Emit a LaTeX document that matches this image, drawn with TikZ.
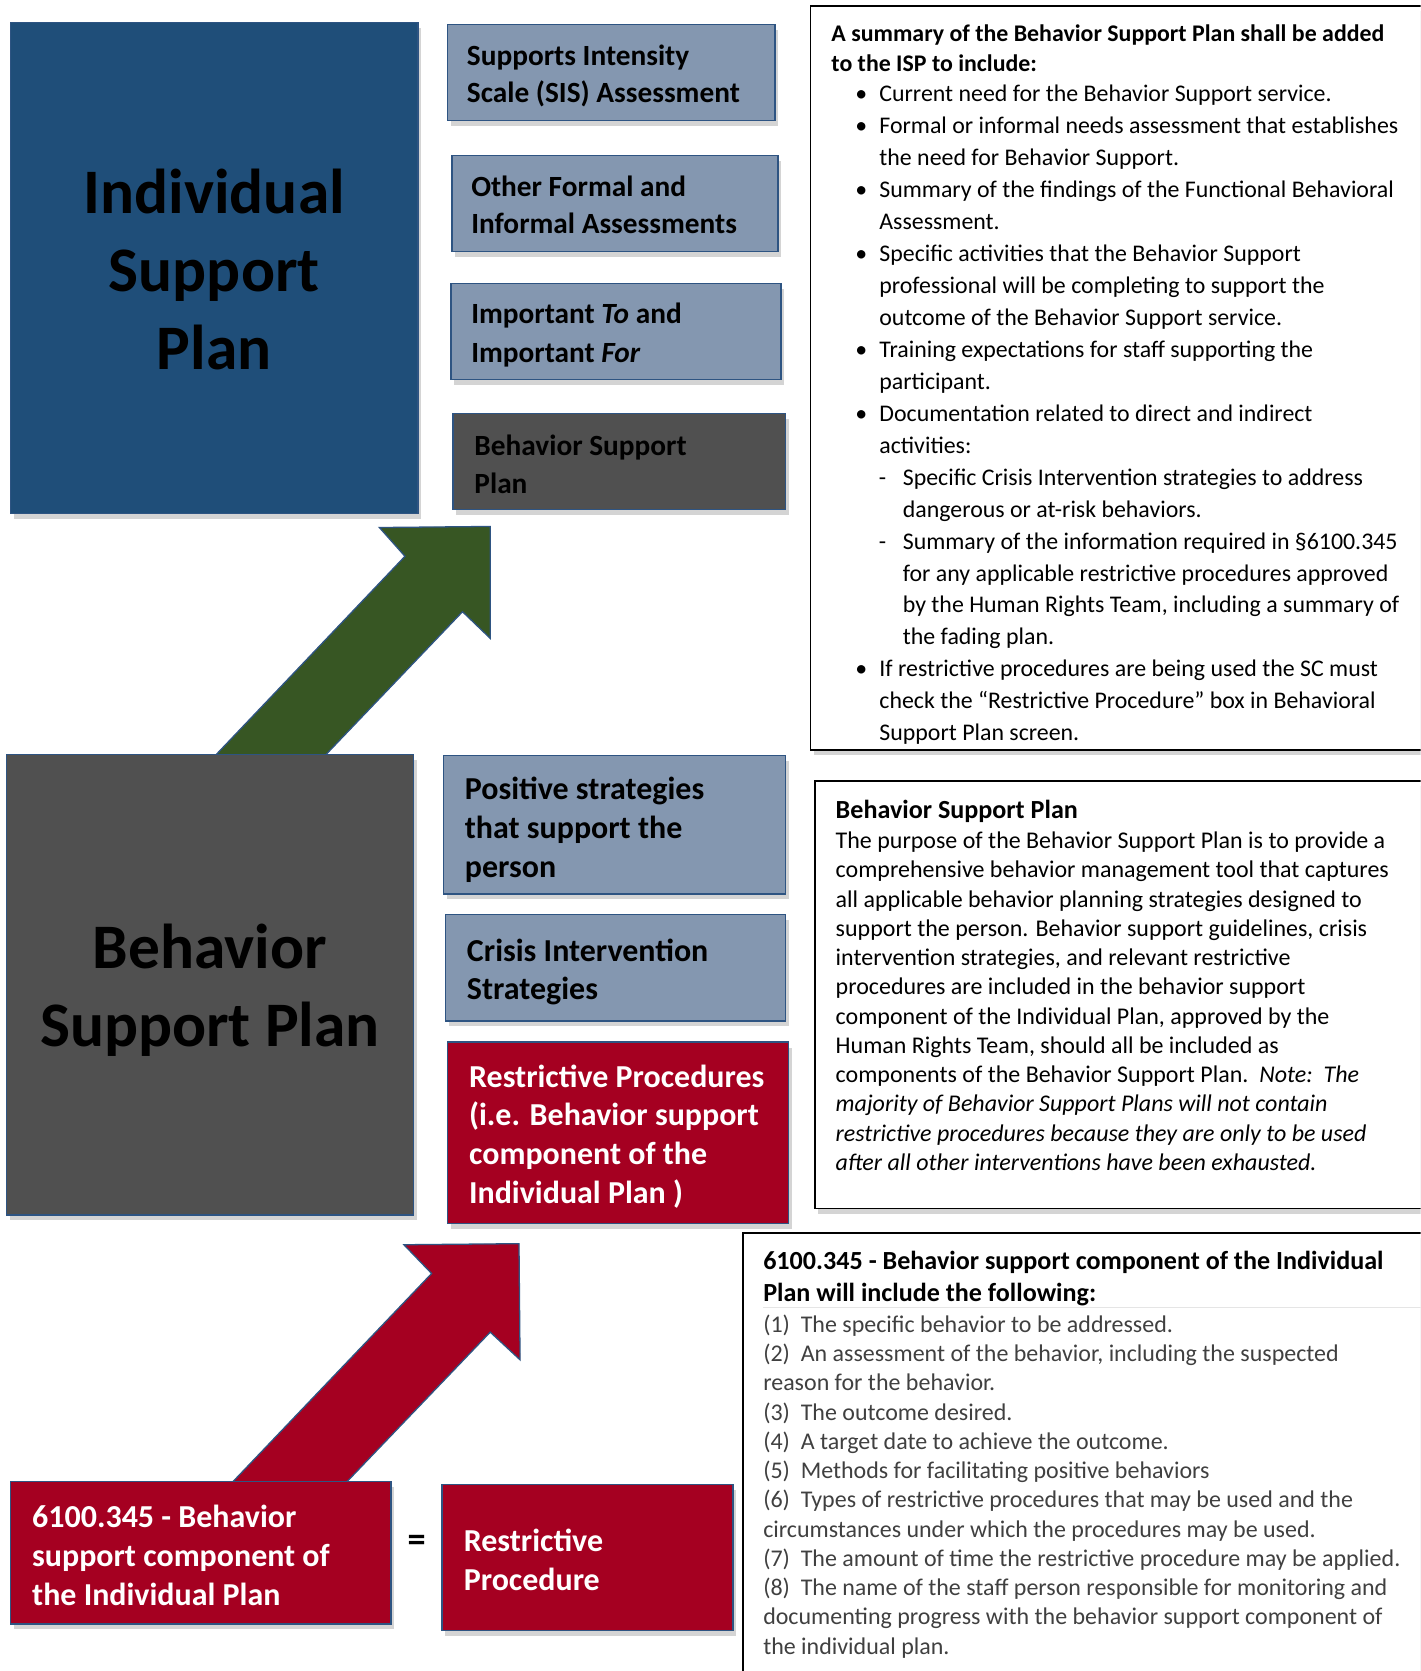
\documentclass[tikz,border=0pt]{standalone}
\usepackage{fontspec}
\setmainfont{Carlito}
\usetikzlibrary{shadows}
\definecolor{ispblue}{RGB}{31,78,121}
\definecolor{steel}{RGB}{132,151,176}
\definecolor{dgray}{RGB}{80,80,80}
\definecolor{bred}{RGB}{165,0,33}
\definecolor{dgreen}{RGB}{55,86,35}
\definecolor{bline}{RGB}{46,84,130}
\definecolor{bodygray}{RGB}{64,64,64}
\newcommand{\fs}[2]{\fontsize{#1}{#2}\selectfont}
\newcommand{\bitem}{\rlap{\makebox[56pt][c]{\textbullet}}\hspace*{45pt}}
\newcommand{\bcont}{\hspace*{45pt}}
\newcommand{\ditem}{\rlap{\makebox[96pt][c]{-}}\hspace*{67pt}}
\newcommand{\dcont}{\hspace*{67pt}}
\begin{document}
\begin{tikzpicture}[x=1pt,y=-1pt,
  shad/.style={drop shadow={opacity=0.28,shadow xshift=3pt,shadow yshift=-5pt,fill=black!60}},
  box/.style={rectangle, draw=bline, line width=1.5pt, anchor=north west, outer sep=0pt, inner sep=0pt, shad},
  rbox/.style={rectangle, draw=black, fill=white, line width=1.6pt, anchor=north west, outer sep=0pt, inner sep=0pt, shad},
  lbl/.style={anchor=west, inner sep=0pt, align=left},
  smallf/.style={font={\fs{27.5}{34.5}\bfseries}},
  midf/.style={font={\fs{30}{36.5}\bfseries}},
  bigf/.style={font={\fs{59.5}{73}\bfseries}, align=center, inner sep=0pt},
  blockarrow/.style={draw=bline, line width=1.2pt, line join=miter}
]
\useasboundingbox (0,0) rectangle (1333,1568);
\clip (0,0) rectangle (1333,1568);
\fill[white] (0,0) rectangle (1333,1568);

% ---- block arrows (drawn first, boxes cover their feet)
\draw[blockarrow, fill=dgreen] (201,710) -- (380,522) -- (356,495) -- (460,494) -- (460,599) -- (434,574) -- (304,710) -- cycle;
\draw[blockarrow, fill=bred] (216,1393) -- (405,1195) -- (379,1168) -- (487,1167) -- (488,1276) -- (460,1250) -- (323,1393) -- cycle;

% ---- left column
\node[box, fill=ispblue, minimum width=382pt, minimum height=461pt] (isp) at (10,21) {};
\node[bigf] (isp-t) at ([yshift=-1.5pt]isp.center) {Individual\\Support\\Plan};

\node[box, fill=steel, minimum width=307pt, minimum height=90pt] (sis) at (420,23) {};
\node[lbl, smallf] (sis-t) at ([xshift=18pt,yshift=-3pt]sis.west) {Supports Intensity\\Scale (SIS) Assessment};

\node[box, fill=steel, minimum width=306pt, minimum height=90pt] (oth) at (424,146) {};
\node[lbl, smallf] (oth-t) at ([xshift=18pt,yshift=-1.5pt]oth.west) {Other Formal and\\Informal Assessments};

\node[box, fill=steel, minimum width=310pt, minimum height=90pt] (imp) at (423,266) {};
\node[lbl, font={\fs{27.5}{36}\bfseries}] (imp-t) at ([xshift=19pt,yshift=-3.5pt]imp.west) {Important \textit{To} and\\Important \textit{For}};

\node[box, fill=dgray, minimum width=312pt, minimum height=90pt] (bsps) at (425,388) {};
\node[lbl, font={\fs{27.5}{36}\bfseries}] (bsps-t) at ([xshift=20pt,yshift=-2.5pt]bsps.west) {Behavior Support\\Plan};

\node[box, fill=dgray, minimum width=382pt, minimum height=432pt] (bsp) at (6,708) {};
\node[bigf] (bsp-t) at ([xshift=0pt,yshift=-5pt]bsp.center) {Behavior\\Support Plan};

\node[box, fill=steel, minimum width=321pt, minimum height=130pt] (pos) at (416,709) {};
\node[lbl, midf] (pos-t) at ([xshift=20pt,yshift=-4.5pt]pos.west) {Positive strategies\\that support the\\person};

\node[box, fill=steel, minimum width=319pt, minimum height=100pt] (cri) at (418,858) {};
\node[lbl, midf] (cri-t) at ([xshift=20pt,yshift=-4pt]cri.west) {Crisis Intervention\\Strategies};

\node[box, fill=bred, minimum width=320pt, minimum height=170pt] (rps) at (420,978) {};
\node[lbl, midf, text=white] (rps-t) at ([xshift=20pt,yshift=-3.5pt]rps.west) {Restrictive Procedures\\(i.e. Behavior support\\component of the\\Individual Plan )};

\node[box, fill=bred, minimum width=357pt, minimum height=134pt] (bc) at (10,1390) {};
\node[lbl, midf, text=white] (bc-t) at ([xshift=20pt,yshift=-2.5pt]bc.west) {6100.345 - Behavior\\support component of\\the Individual Plan};

\node[font={\fs{34}{34}\bfseries}, inner sep=0pt] (eq) at (391,1448) {=};

\node[box, fill=bred, minimum width=273pt, minimum height=137pt] (rp) at (415,1393) {};
\node[lbl, midf, text=white] (rp-t) at ([xshift=20pt,yshift=-2.5pt]rp.west) {Restrictive\\Procedure};

% ---- right column text boxes
\node[rbox, minimum width=620pt, minimum height=698pt] (sum) at (760.5,5.5) {};
\node[anchor=north west, inner sep=0pt, align=left, font={\fs{22.4}{28}\bfseries}] (sum-h) at (780,19.4)
  {\strut A summary of the Behavior Support Plan shall be added\\to the ISP to include:};
\node[anchor=north west, inner sep=0pt, align=left, font={\fs{22.4}{30}}] (sum-l) at (780,74)
  {\strut\bitem Current need for the Behavior Support service.\\
   \bitem Formal or informal needs assessment that establishes\\
   \bcont the need for Behavior Support.\\
   \bitem Summary of the findings of the Functional Behavioral\\
   \bcont Assessment.\\
   \bitem Specific activities that the Behavior Support\\
   \bcont professional will be completing to support the\\
   \bcont outcome of the Behavior Support service.\\
   \bitem Training expectations for staff supporting the\\
   \bcont participant.\\
   \bitem Documentation related to direct and indirect\\
   \bcont activities:\\
   \ditem Specific Crisis Intervention strategies to address\\
   \dcont dangerous or at-risk behaviors.\\
   \ditem Summary of the information required in §6100.345\\
   \dcont for any applicable restrictive procedures approved\\
   \dcont by the Human Rights Team, including a summary of\\
   \dcont the fading plan.\\
   \bitem If restrictive procedures are being used the SC must\\
   \bcont check the “Restrictive Procedure” box in Behavioral\\
   \bcont Support Plan screen.};

\node[rbox, minimum width=620pt, minimum height=401pt] (bspd) at (765,733) {};
\node[anchor=north west, inner sep=0pt, align=left, font={\fs{24.5}{27.5}\bfseries}] (bspd-h) at (784,748.2)
  {\strut Behavior Support Plan};
\node[anchor=north west, inner sep=0pt, align=left, font={\fs{22.5}{27.45}}] (bspd-b) at (784,776.8)
  {\strut The purpose of the Behavior Support Plan is to provide a\\
   comprehensive behavior management tool that captures\\
   all applicable behavior planning strategies designed to\\
   support the person. Behavior support guidelines, crisis\\
   intervention strategies, and relevant restrictive\\
   procedures are included in the behavior support\\
   component of the Individual Plan, approved by the\\
   Human Rights Team, should all be included as\\
   components of the Behavior Support Plan.\ \ \textit{Note:\ \ The}\\
   \itshape majority of Behavior Support Plans will not contain\\
   \itshape restrictive procedures because they are only to be used\\
   \itshape after all other interventions have been exhausted.};

\node[rbox, minimum width=700pt, minimum height=450pt] (reg) at (697,1157) {};
\node[anchor=north west, inner sep=0pt, align=left, font={\fs{24.5}{30}\bfseries}] (reg-h) at (716,1170.5)
  {\strut 6100.345 - Behavior support component of the Individual\\Plan will include the following:};
\draw[black!10, line width=0.8pt] (716,1227) -- (1333,1227);
\node[anchor=north west, inner sep=0pt, align=left, text=bodygray, font={\fs{22.5}{27.45}}] (reg-b) at (716,1230.8)
  {\strut (1)\ \ The specific behavior to be addressed.\\
   (2)\ \ An assessment of the behavior, including the suspected\\
   reason for the behavior.\\
   (3)\ \ The outcome desired.\\
   (4)\ \ A target date to achieve the outcome.\\
   (5)\ \ Methods for facilitating positive behaviors\\
   (6)\ \ Types of restrictive procedures that may be used and the\\
   circumstances under which the procedures may be used.\\
   (7)\ \ The amount of time the restrictive procedure may be applied.\\
   (8)\ \ The name of the staff person responsible for monitoring and\\
   documenting progress with the behavior support component of\\
   the individual plan.};
\end{tikzpicture}
\end{document}
